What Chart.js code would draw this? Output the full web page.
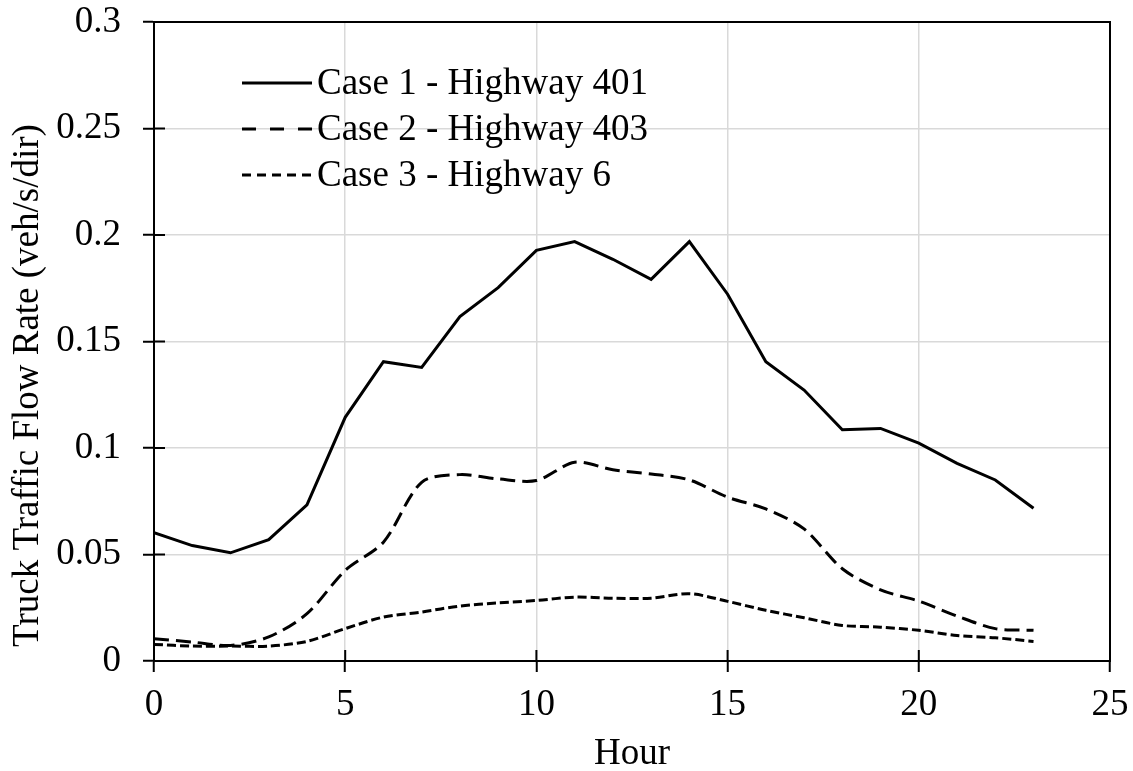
<!DOCTYPE html>
<html lang="en">
<head>
    <meta charset="UTF-8">
    <title>Truck Traffic Flow Rate</title>
    <style>
        html, body { margin: 0; padding: 0; background: #fff; }
        .wrap { width: 1133px; height: 771px; }
    </style>
</head>
<body>

<div class="wrap">
    <canvas id="flowChart" width="1133" height="771"></canvas>
</div>

<script src="https://cdn.jsdelivr.net/npm/chart.js"></script>
<script>
    // Hourly truck flow (veh/s/dir) for the three highway cases
    const hours = [0, 1, 2, 3, 4, 5, 6, 7, 8, 9, 10, 11, 12, 13, 14, 15, 16, 17, 18, 19, 20, 21, 22, 23];
    const case1 = [0.0602, 0.0542, 0.0508, 0.0570, 0.0733, 0.1144, 0.1405, 0.1378, 0.1617, 0.1753, 0.1928, 0.1969,
                   0.1886, 0.1792, 0.1969, 0.1722, 0.1405, 0.1272, 0.1086, 0.1092, 0.1023, 0.0928, 0.0850, 0.0717];
    const case2 = [0.0105, 0.0089, 0.0073, 0.0113, 0.0222, 0.0425, 0.0558, 0.0839, 0.0875, 0.0855, 0.0847, 0.0933,
                   0.0898, 0.0878, 0.0850, 0.0769, 0.0714, 0.0620, 0.0433, 0.0334, 0.0281, 0.0211, 0.0152, 0.0144];
    const case3 = [0.0078, 0.0070, 0.0070, 0.0070, 0.0092, 0.0152, 0.0206, 0.0230, 0.0258, 0.0273, 0.0284, 0.0300,
                   0.0295, 0.0295, 0.0316, 0.0280, 0.0238, 0.0203, 0.0167, 0.0159, 0.0144, 0.0120, 0.0109, 0.0092];
    const seriesNames = ['Case 1 - Highway 401', 'Case 2 - Highway 403', 'Case 3 - Highway 6'];
    const xTitle = 'Hour';
    const yTitle = 'Truck Traffic Flow Rate (veh/s/dir)';

    const FONT = '"Liberation Serif", "Times New Roman", serif';
    const FONT_SIZE = 37;
    const toPoints = vals => hours.map((h, i) => ({ x: h, y: vals[i] }));

    // legend inside the plot (top left) and the y title, centred on the whole canvas height
    const innerLegend = {
        id: 'innerLegend',
        afterDraw(chart) {
            const ctx = chart.ctx;
            const x0 = 242, x1 = 312, y0 = 83, step = 46;
            ctx.save();
            ctx.font = FONT_SIZE + 'px ' + FONT;
            ctx.fillStyle = '#000';
            chart.data.datasets.forEach((ds, i) => {
                const y = y0 + i * step;
                ctx.strokeStyle = '#000';
                ctx.lineWidth = 3;
                ctx.setLineDash(ds.legendDash || []);
                ctx.beginPath();
                ctx.moveTo(x0, y);
                ctx.lineTo(x1, y);
                ctx.stroke();
                ctx.setLineDash([]);
                ctx.textAlign = 'left';
                ctx.textBaseline = 'middle';
                ctx.fillText(ds.label, x1 + 5, y + 1);
            });

            ctx.translate(28, chart.height / 2);
            ctx.rotate(-Math.PI / 2);
            ctx.textAlign = 'center';
            ctx.textBaseline = 'middle';
            ctx.fillText(yTitle, 0, 0);
            ctx.restore();
        }
    };

    // black frame round the plot plus tick marks that cross the axes
    const frameTicks = {
        id: 'frameTicks',
        afterDatasetsDraw(chart) {
            const { ctx, chartArea: a, scales } = chart;
            ctx.save();
            ctx.strokeStyle = '#000';
            ctx.lineWidth = 2;
            ctx.strokeRect(a.left, a.top, a.right - a.left, a.bottom - a.top);
            ctx.beginPath();
            scales.y.ticks.forEach(t => {
                const y = scales.y.getPixelForValue(t.value);
                ctx.moveTo(a.left, y);
                ctx.lineTo(a.left + 11, y);
            });
            scales.x.ticks.forEach(t => {
                const x = scales.x.getPixelForValue(t.value);
                ctx.moveTo(x, a.bottom);
                ctx.lineTo(x, a.bottom - 11);
            });
            ctx.stroke();
            ctx.restore();
        }
    };

    new Chart(document.getElementById('flowChart').getContext('2d'), {
        type: 'line',
        data: {
            datasets: [{
                label: seriesNames[0],
                data: toPoints(case1),
                borderColor: '#000',
                borderWidth: 3,
                tension: 0,
                legendDash: []
            }, {
                label: seriesNames[1],
                data: toPoints(case2),
                borderColor: '#000',
                borderWidth: 3,
                borderDash: [15, 7],
                tension: 0.3,
                legendDash: [14, 14]
            }, {
                label: seriesNames[2],
                data: toPoints(case3),
                borderColor: '#000',
                borderWidth: 3,
                borderDash: [9, 4],
                tension: 0.3,
                legendDash: [9, 6]
            }]
        },
        options: {
            responsive: false,
            animation: false,
            events: [],
            layout: { padding: { left: 0, right: 23, top: 22, bottom: 0 } },
            elements: { point: { radius: 0 } },
            plugins: {
                legend: { display: false },
                tooltip: { enabled: false }
            },
            scales: {
                x: {
                    type: 'linear',
                    min: 0,
                    max: 25,
                    afterFit(scale) {
                        scale.height = 110;
                        scale.paddingLeft = 0;
                        scale.paddingRight = 0;
                    },
                    ticks: {
                        stepSize: 5,
                        color: '#000',
                        padding: 11,
                        maxRotation: 0,
                        font: { family: FONT, size: FONT_SIZE }
                    },
                    grid: { color: '#d9d9d9', lineWidth: 1.5, tickLength: 11, tickColor: '#000', tickWidth: 2 },
                    border: { color: '#000', width: 2 },
                    title: {
                        display: true,
                        text: xTitle,
                        color: '#000',
                        padding: 0,
                        font: { family: FONT, size: FONT_SIZE, lineHeight: 0.9 }
                    }
                },
                y: {
                    min: 0,
                    max: 0.3,
                    afterFit(scale) {
                        scale.width = 154;
                        scale.paddingTop = 0;
                        scale.paddingBottom = 0;
                    },
                    ticks: {
                        stepSize: 0.05,
                        color: '#000',
                        padding: 22,
                        font: { family: FONT, size: FONT_SIZE },
                        callback: v => String(+v.toFixed(2))
                    },
                    grid: { color: '#d9d9d9', lineWidth: 1.5, tickLength: 11, tickColor: '#000', tickWidth: 2 },
                    border: { color: '#000', width: 2 }
                }
            }
        },
        plugins: [innerLegend, frameTicks]
    });
</script>
</body>
</html>
